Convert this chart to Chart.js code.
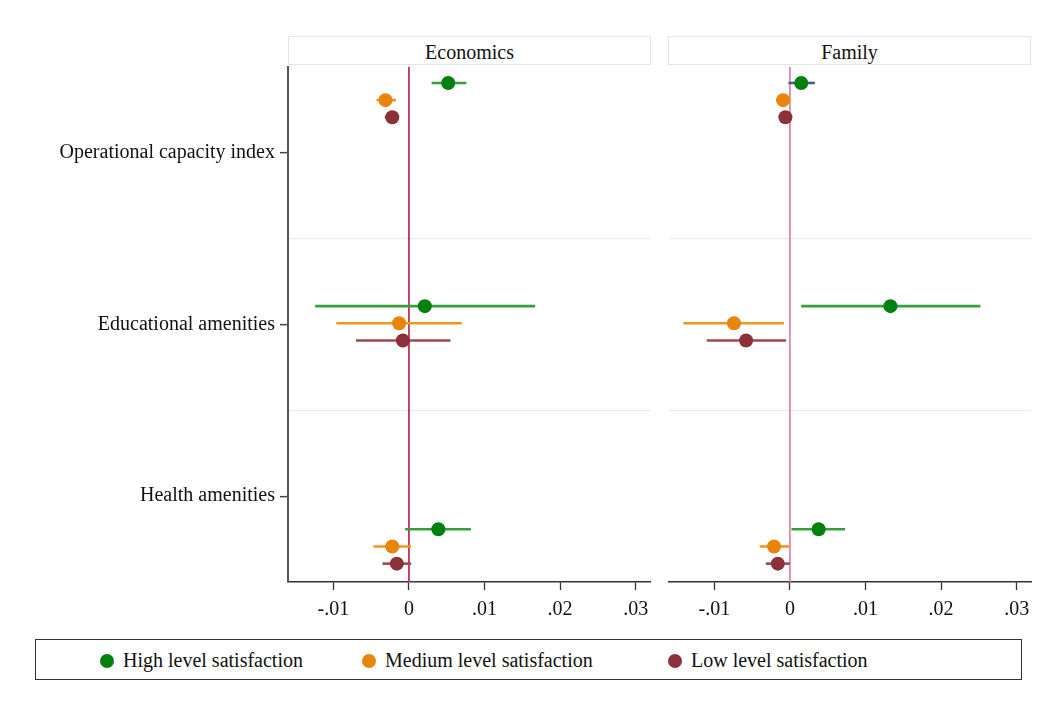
<!DOCTYPE html>
<html>
<head>
<meta charset="utf-8">
<script src="https://cdn.jsdelivr.net/npm/chart.js@4.4.1/dist/chart.umd.min.js"></script>
<style>
  html, body { margin: 0; padding: 0; background: #fff; }
  body { width: 1059px; height: 706px; position: relative; overflow: hidden;
         font-family: "Liberation Serif", "DejaVu Serif", serif; color: #111; }
  canvas { position: absolute; }
  .strip { position: absolute; top: 36px; height: 29px; border: 1px solid #dde8ec;
           background: #fff; text-align: center; line-height: 30px; font-size: 20px; box-sizing: border-box; }
  .legend { position: absolute; left: 35px; top: 639px; width: 987px; height: 41px;
            border: 1.5px solid #333; box-sizing: border-box; font-size: 20px; }
  .item { position: absolute; top: 8px; height: 24px; line-height: 24px; white-space: nowrap; }
  .dot { display: inline-block; width: 14px; height: 14px; border-radius: 50%;
         vertical-align: -1px; margin-right: 9px; }
</style>
</head>
<body>
<div class="strip" style="left:288px;width:363px;">Economics</div>
<div class="strip" style="left:668px;width:363px;">Family</div>
<canvas id="econ" width="660" height="630" style="left:0;top:0;"></canvas>
<canvas id="fam" width="399" height="630" style="left:660px;top:0;"></canvas>
<div class="legend" id="legend"></div>

<script>
// Outcome rows (top to bottom) and satisfaction groups
const categories = ['Operational capacity index', 'Educational amenities', 'Health amenities'];
const seriesNames = ['High level satisfaction', 'Medium level satisfaction', 'Low level satisfaction'];

// X axis ticks
const xTickValues = [-0.01, 0, 0.01, 0.02, 0.03];
const xTickLabels = ['-.01', '0', '.01', '.02', '.03'];

// Economics: coefficients and 95% CI bounds, one row per satisfaction group
const econEstimate = [
  [0.0052, 0.0021, 0.0039],
  [-0.0031, -0.0013, -0.0022],
  [-0.0022, -0.0008, -0.0016]
];
const econLower = [
  [0.0030, -0.0124, -0.0005],
  [-0.0043, -0.0096, -0.0047],
  [-0.0032, -0.0070, -0.0035]
];
const econUpper = [
  [0.0076, 0.0167, 0.0082],
  [-0.0017, 0.0070, 0.0003],
  [-0.0014, 0.0055, 0.0003]
];

// Family: coefficients and 95% CI bounds
const famEstimate = [
  [0.0015, 0.0133, 0.0038],
  [-0.0009, -0.0074, -0.0021],
  [-0.0006, -0.0058, -0.0016]
];
const famLower = [
  [-0.0002, 0.0015, 0.0002],
  [-0.0018, -0.0141, -0.0040],
  [-0.0010, -0.0110, -0.0032]
];
const famUpper = [
  [0.0033, 0.0252, 0.0073],
  [0.0001, -0.0008, -0.0001],
  [-0.0002, -0.0005, 0.0000]
];

// Styling
const pointColors = ['#00800f', '#e8850a', '#8c3039'];
const ciColors = ['#34a03a', '#f0961c', '#9b4a52'];
const FONT = { family: '"Liberation Serif", "DejaVu Serif", serif', size: 20 };
const X_MIN = -0.016, X_MAX = 0.0319;

// Vertical placement of each marker: row block start, spacing between rows, spacing between groups
const rowStart = 0.593, rowStep = 1.3, groupStep = 0.1;
const yPos = (row, grp) => rowStart + row * rowStep + grp * groupStep;

function buildDatasets(est, lo, hi, zeroColor, zeroWidth, ciOverride) {
  const ds = [];
  ds.push({
    type: 'line', data: [{ x: 0, y: 0.5 }, { x: 0, y: 3.5 }],
    borderColor: zeroColor, borderWidth: zeroWidth,
    pointRadius: 0, order: 3
  });
  for (let s = 0; s < seriesNames.length; s++) {
    for (let r = 0; r < categories.length; r++) {
      const key = s + ',' + r;
      ds.push({
        type: 'line',
        data: [{ x: lo[s][r], y: yPos(r, s) }, { x: hi[s][r], y: yPos(r, s) }],
        borderColor: (ciOverride && ciOverride[key]) || ciColors[s],
        borderWidth: 2.6, pointRadius: 0, order: 2
      });
    }
  }
  for (let s = 0; s < seriesNames.length; s++) {
    ds.push({
      type: 'scatter', label: seriesNames[s],
      data: categories.map((c, r) => ({ x: est[s][r], y: yPos(r, s) })),
      backgroundColor: pointColors[s], borderColor: pointColors[s],
      pointRadius: 7, pointHoverRadius: 7, borderWidth: 0, order: 1
    });
  }
  return ds;
}

function xScale() {
  return {
    type: 'linear', min: X_MIN, max: X_MAX,
    afterBuildTicks: sc => { sc.ticks = xTickValues.map(v => ({ value: v })); },
    afterFit: sc => { sc.height = 48; },
    ticks: {
      autoSkip: false, maxRotation: 0, padding: 8, color: '#111', font: FONT,
      callback: (v) => { const i = xTickValues.findIndex(t => Math.abs(t - v) < 1e-9); return i >= 0 ? xTickLabels[i] : ''; }
    },
    grid: { drawOnChartArea: false, drawTicks: true, tickLength: 8, color: '#333', tickWidth: 1.3 },
    border: { display: true, color: '#333', width: 1.5 }
  };
}

function yScale(withLabels) {
  const isRow = v => Math.abs(v - Math.round(v)) < 1e-6;
  return {
    type: 'linear', reverse: true, min: 0.5, max: 3.5,
    afterBuildTicks: sc => { sc.ticks = [1, 1.5, 2, 2.5, 3].map(v => ({ value: v })); },
    afterFit: sc => { sc.width = withLabels ? 288 : 0; },
    ticks: {
      display: withLabels, autoSkip: false, padding: 5, color: '#111', font: FONT,
      callback: v => isRow(v) ? categories[Math.round(v) - 1] : ''
    },
    grid: {
      drawTicks: withLabels, tickLength: 8, tickWidth: 1.5,
      color: ctx => (ctx.tick && !isRow(ctx.tick.value)) ? '#e6eff2' : 'rgba(0,0,0,0)',
      tickColor: ctx => (ctx.tick && isRow(ctx.tick.value)) ? '#444' : 'rgba(0,0,0,0)',
      lineWidth: 1.3
    },
    border: { display: withLabels, color: '#555', width: 2 }
  };
}

function makeChart(id, datasets, withLabels, padding) {
  return new Chart(document.getElementById(id), {
    data: { datasets },
    options: {
      responsive: false, animation: false,
      layout: { padding },
      plugins: { legend: { display: false }, tooltip: { enabled: false } },
      scales: { x: xScale(), y: yScale(withLabels) }
    }
  });
}

makeChart('econ', buildDatasets(econEstimate, econLower, econUpper, '#c0284c', 1), true,
  { left: 0, right: 10, top: 67, bottom: 0 });
makeChart('fam', buildDatasets(famEstimate, famLower, famUpper, '#e5789a', 1.6, { '0,0': '#3d5f86' }), false,
  { left: 9, right: 28, top: 67, bottom: 0 });

// Legend
const legend = document.getElementById('legend');
const itemLeft = [64, 326, 632];
seriesNames.forEach((name, i) => {
  const el = document.createElement('div');
  el.className = 'item';
  el.style.left = itemLeft[i] + 'px';
  el.innerHTML = '<span class="dot" style="background:' + pointColors[i] + '"></span>' + name;
  legend.appendChild(el);
});
</script>
</body>
</html>
